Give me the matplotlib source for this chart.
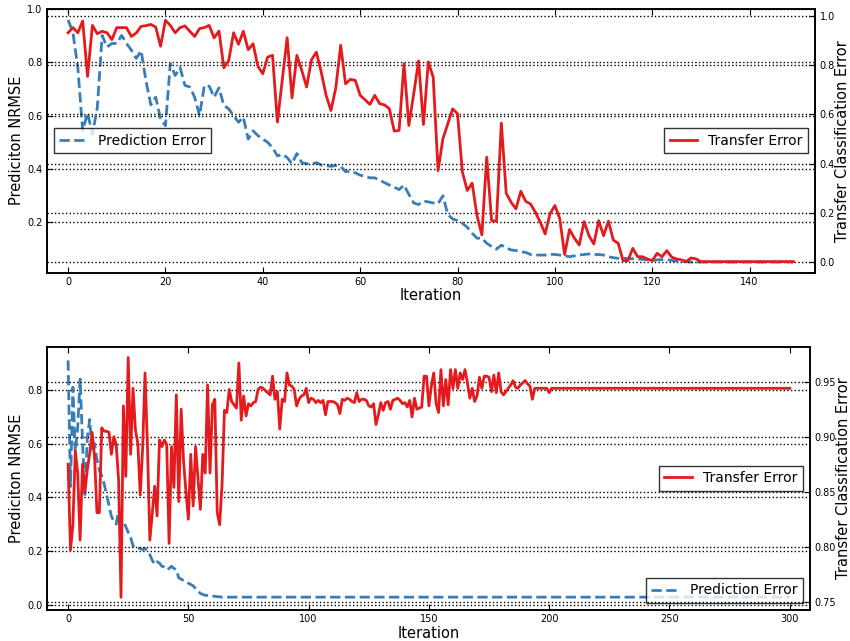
import matplotlib
matplotlib.use('Agg')
import matplotlib.pyplot as plt

# top run: 150 iterations
top_pred = [0.958, 0.91, 0.78, 0.543, 0.61, 0.53, 0.63, 0.90, 0.857, 0.87,
            0.87, 0.90, 0.87, 0.845, 0.814, 0.843, 0.73, 0.64, 0.669, 0.587,
            0.562, 0.795, 0.75, 0.78, 0.713, 0.707, 0.669, 0.60, 0.713, 0.71,
            0.669, 0.704, 0.638, 0.625, 0.60, 0.575, 0.594, 0.512, 0.543, 0.525,
            0.512, 0.50, 0.48, 0.449, 0.455, 0.443, 0.42, 0.458, 0.424, 0.42,
            0.418, 0.424, 0.415, 0.413, 0.41, 0.413, 0.41, 0.39, 0.392, 0.386,
            0.377, 0.373, 0.367, 0.367, 0.358, 0.349, 0.34, 0.332, 0.323, 0.34,
            0.305, 0.273, 0.267, 0.28, 0.277, 0.273, 0.27, 0.30, 0.23, 0.213,
            0.207, 0.197, 0.182, 0.16, 0.141, 0.141, 0.122, 0.11, 0.10, 0.115,
            0.105, 0.097, 0.095, 0.09, 0.088, 0.08, 0.078, 0.078, 0.078, 0.081,
            0.08, 0.078, 0.075, 0.072, 0.075, 0.078, 0.08, 0.082, 0.08, 0.08,
            0.078, 0.072, 0.068, 0.066, 0.066, 0.065, 0.064, 0.063, 0.062, 0.06,
            0.058, 0.06, 0.061, 0.06, 0.058, 0.056, 0.055, 0.053] + [0.052] * 22

top_transfer = [0.933, 0.954, 0.933, 0.981, 0.755, 0.963, 0.929, 0.939, 0.933, 0.905,
                0.954, 0.954, 0.954, 0.918, 0.932, 0.959, 0.962, 0.967, 0.956, 0.878,
                0.984, 0.963, 0.933, 0.954, 0.961, 0.939, 0.918, 0.950, 0.954, 0.963,
                0.912, 0.940, 0.790, 0.820, 0.933, 0.886, 0.939, 0.864, 0.888, 0.796,
                0.766, 0.834, 0.841, 0.569, 0.74, 0.913, 0.668, 0.841, 0.78, 0.712,
                0.823, 0.854, 0.773, 0.678, 0.616, 0.709, 0.882, 0.725, 0.743, 0.739,
                0.678, 0.660, 0.641, 0.678, 0.644, 0.639, 0.623, 0.532, 0.535, 0.807,
                0.555, 0.684, 0.818, 0.559, 0.814, 0.752, 0.371, 0.501, 0.562, 0.623,
                0.603, 0.365, 0.290, 0.320, 0.188, 0.109, 0.426, 0.167, 0.165, 0.565,
                0.279, 0.242, 0.215, 0.287, 0.246, 0.235, 0.201, 0.161, 0.113, 0.195,
                0.229, 0.175, 0.029, 0.131, 0.096, 0.068, 0.163, 0.106, 0.072, 0.167,
                0.106, 0.165, 0.088, 0.075, 0.004, 0.004, 0.054, 0.020, 0.020, 0.011,
                0.004, 0.034, 0.020, 0.045, 0.018, 0.011, 0.007, 0.001, 0.015, 0.011] + [0.0] * 20

# bottom run: 301 iterations
bot_pred = [0.91, 0.44, 0.81, 0.57, 0.66, 0.84, 0.61, 0.41, 0.62, 0.69,
            0.57, 0.60, 0.54, 0.50, 0.48, 0.45, 0.41, 0.37, 0.33, 0.31,
            0.30, 0.35, 0.32, 0.31, 0.29, 0.27, 0.25, 0.22, 0.21, 0.21,
            0.21, 0.205, 0.21, 0.20, 0.186, 0.165, 0.15, 0.16, 0.155, 0.143,
            0.14, 0.13, 0.135, 0.143, 0.135, 0.13, 0.10, 0.095, 0.09, 0.087,
            0.08, 0.075, 0.07, 0.06, 0.05, 0.042, 0.038, 0.035, 0.034, 0.033,
            0.032, 0.031, 0.030, 0.029] + [0.028] * 237

bot_transfer = [0.875, 0.797, 0.82, 0.887, 0.867, 0.806, 0.875, 0.85, 0.87, 0.885,
                0.904, 0.882, 0.831, 0.831, 0.908, 0.905, 0.905, 0.904, 0.884, 0.90,
                0.893, 0.861, 0.754, 0.928, 0.864, 0.972, 0.884, 0.944, 0.906, 0.894,
                0.847, 0.89, 0.958, 0.891, 0.806, 0.83, 0.855, 0.828, 0.897, 0.891,
                0.897, 0.893, 0.803, 0.891, 0.854, 0.938, 0.841, 0.925, 0.878, 0.85,
                0.825, 0.884, 0.837, 0.891, 0.862, 0.834, 0.884, 0.867, 0.947, 0.867,
                0.929, 0.934, 0.831, 0.82, 0.856, 0.924, 0.922, 0.943, 0.932, 0.929,
                0.926, 0.967, 0.915, 0.937, 0.919, 0.93, 0.928, 0.931, 0.932, 0.943,
                0.945, 0.944, 0.942, 0.94, 0.938, 0.955, 0.934, 0.941, 0.907, 0.934,
                0.932, 0.958, 0.947, 0.946, 0.943, 0.928, 0.934, 0.937, 0.938, 0.944,
                0.931, 0.935, 0.934, 0.931, 0.933, 0.931, 0.933, 0.92, 0.932, 0.932,
                0.932, 0.931, 0.929, 0.921, 0.934, 0.933, 0.935, 0.934, 0.932, 0.931,
                0.94, 0.932, 0.934, 0.934, 0.933, 0.928, 0.927, 0.93, 0.911, 0.92,
                0.931, 0.924, 0.931, 0.932, 0.925, 0.933, 0.934, 0.935, 0.933, 0.93,
                0.931, 0.927, 0.933, 0.918, 0.935, 0.925, 0.926, 0.927, 0.955, 0.955,
                0.928, 0.946, 0.958, 0.93, 0.922, 0.961, 0.928, 0.952, 0.929, 0.961,
                0.944, 0.961, 0.944, 0.958, 0.952, 0.961, 0.949, 0.935, 0.944, 0.932,
                0.937, 0.954, 0.944, 0.955, 0.955, 0.954, 0.941, 0.956, 0.94, 0.958,
                0.941, 0.938, 0.941, 0.944, 0.947, 0.951, 0.945, 0.944, 0.947, 0.949,
                0.951, 0.948, 0.946, 0.934, 0.944, 0.944, 0.944, 0.944, 0.944, 0.944,
                0.94] + [0.944] * 100

blue = '#377eb8'
red = '#e41a1c'


def draw_panel(rect, pred, transfer, xlim, xticks, ylim1, ylim2, leg_pred, leg_transfer):
    ax = fig.add_axes(rect)
    ax2 = ax.twinx()
    ax.plot(range(len(pred)), pred, '--', color=blue, lw=2, label='Prediction Error')
    ax2.plot(range(len(transfer)), transfer, '-', color=red, lw=2, label='Transfer Error')

    ax.set_xlim(*xlim)
    ax.set_xticks(xticks)
    ax.set_ylim(*ylim1)
    ax2.set_ylim(*ylim2)

    for a in (ax, ax2):
        a.yaxis.grid(True, linestyle=':', color='k', lw=1)
        a.tick_params(labelsize=7, direction='in', length=4, pad=3)
        for s in a.spines.values():
            s.set_linewidth(1.2)
    ax.tick_params(top=True)

    ax.set_xlabel('Iteration', fontsize=10.5, labelpad=1)
    ax.set_ylabel('Prediciton NRMSE', fontsize=10.5, labelpad=2)
    ax2.set_ylabel('Transfer Classification Error', fontsize=10.5, labelpad=0)

    ax.legend(loc=leg_pred, fancybox=False, edgecolor='k', fontsize=10)
    ax2.legend(loc=leg_transfer, fancybox=False, edgecolor='k', fontsize=10)
    return ax, ax2


fig = plt.figure(figsize=(8.5, 6.41), dpi=100)

draw_panel([0.0549, 0.5746, 0.9043, 0.4118], top_pred, top_transfer,
           (-4.4, 153.5), range(0, 141, 20), (0.012, 1.0), (-0.045, 1.031),
           'center left', 'center right')

draw_panel([0.0549, 0.0484, 0.898, 0.4107], bot_pred, bot_transfer,
           (-8.9, 308.4), range(0, 301, 50), (-0.0198, 0.961), (0.7425, 0.9818),
           'lower right', 'center right')

fig.savefig('out.png', dpi=100)
